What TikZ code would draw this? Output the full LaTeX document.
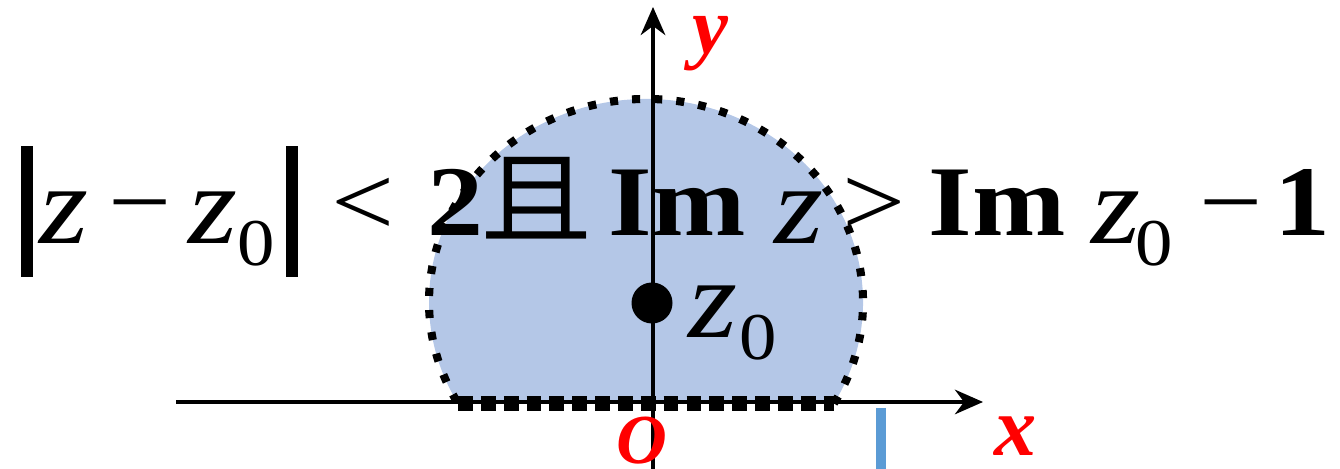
\documentclass[tikz,border=0pt]{standalone}
\usepackage{fontspec}
\setmainfont{Liberation Serif}
\newfontfamily\wideserif[FakeStretch=1.12]{Liberation Serif}
\newfontfamily\cjkfont[FakeStretch=1.12]{Noto Sans CJK SC}
\usepackage{tikz}
\usetikzlibrary{arrows.meta, positioning, calc}
\definecolor{regionblue}{RGB}{180,199,231}
\definecolor{markblue}{RGB}{91,155,213}
\definecolor{labelred}{RGB}{255,0,0}
\newcommand{\absbar}{\rule[-0.41cm]{0.12cm}{1.31cm}}
\newcommand{\varz}{\raisebox{-0.08cm}{\fontsize{32}{33}\selectfont\itshape z}}
\newcommand{\lowzero}{\raisebox{-0.3cm}{\fontsize{19}{20}\selectfont 0}}
\newcommand{\gap}[1]{\hspace{#1cm}}
\tikzset{
  region/.style={fill=regionblue, draw=none},
  rim/.style={line width=2.3pt, dash pattern=on 2.3pt off 4pt},
  chord/.style={line width=4.2pt, dash pattern=on 4.2pt off 2.3pt},
  axis/.style={line width=1pt, -{Stealth[length=8pt, width=7pt]}},
  axlabel/.style={text=labelred, inner sep=0pt, font=\fontsize{24}{26}\selectfont\bfseries\itshape},
  formula/.style={anchor=base west, inner sep=0pt, font=\wideserif\fontsize{28.45}{30}\selectfont},
  centre/.style={circle, fill=black, minimum size=0.41cm, inner sep=0pt},
  tickmark/.style={draw=markblue, line width=3pt}
}
\begin{document}
\begin{tikzpicture}
  \useasboundingbox (0,0) rectangle (13.4,4.69);

  % the region |z-z0|<2, Im z > Im z0 - 1
  \coordinate (c) at (6.46,1.67);
  \path (c) ++(-30:2.17 and 2.03) coordinate (rimR);
  \path (c) ++(210:2.17 and 2.03) coordinate (rimL);
  \fill[region] (rimR) arc[start angle=-30, end angle=210, x radius=2.17, y radius=2.03] -- cycle;
  \draw[rim] (rimR) arc[start angle=-30, end angle=210, x radius=2.17, y radius=2.03];
  \draw[chord] (rimL) -- (rimR);

  % axes
  \coordinate (xstart) at (1.76,0.67);
  \coordinate (xend)   at (9.83,0.67);
  \coordinate (ystart) at (6.53,0);
  \coordinate (yend)   at (6.53,4.62);
  \draw[axis] (xstart) -- (xend);
  \draw[axis] (ystart) -- (yend);
  \draw[tickmark] (8.81,0.61) -- (8.81,0);

  \node[axlabel, font=\fontsize{23}{24}\selectfont\bfseries\itshape] (ylab) at (7.10,4.25) {y};
  \node[axlabel] (xlab) at (10.16,0.33) {x};
  \node[axlabel, font=\fontsize{20}{21}\selectfont\bfseries\itshape] (olab) at (6.42,0.28) {O};

  \node[centre] (z0) at (6.52,1.66) {};
  \node[formula] (z0lab) at (6.88,1.39) {\varz\gap{0.02}\lowzero};

  \node[formula] (cond) at (0.20,2.33)
    {\absbar\gap{0.07}\varz\gap{0.2}−\gap{0.17}\varz\lowzero\gap{0.11}\absbar\gap{0.33}<\gap{0.33}\textbf{2}\gap{-0.03}{\cjkfont 且}\gap{0.16}\textbf{Im}\gap{0.29}\varz\gap{0.19}>\gap{0.23}\textbf{Im}\gap{0.26}\varz\gap{-0.05}\lowzero\gap{0.27}−\gap{0.12}\textbf{1}};
\end{tikzpicture}
\end{document}
